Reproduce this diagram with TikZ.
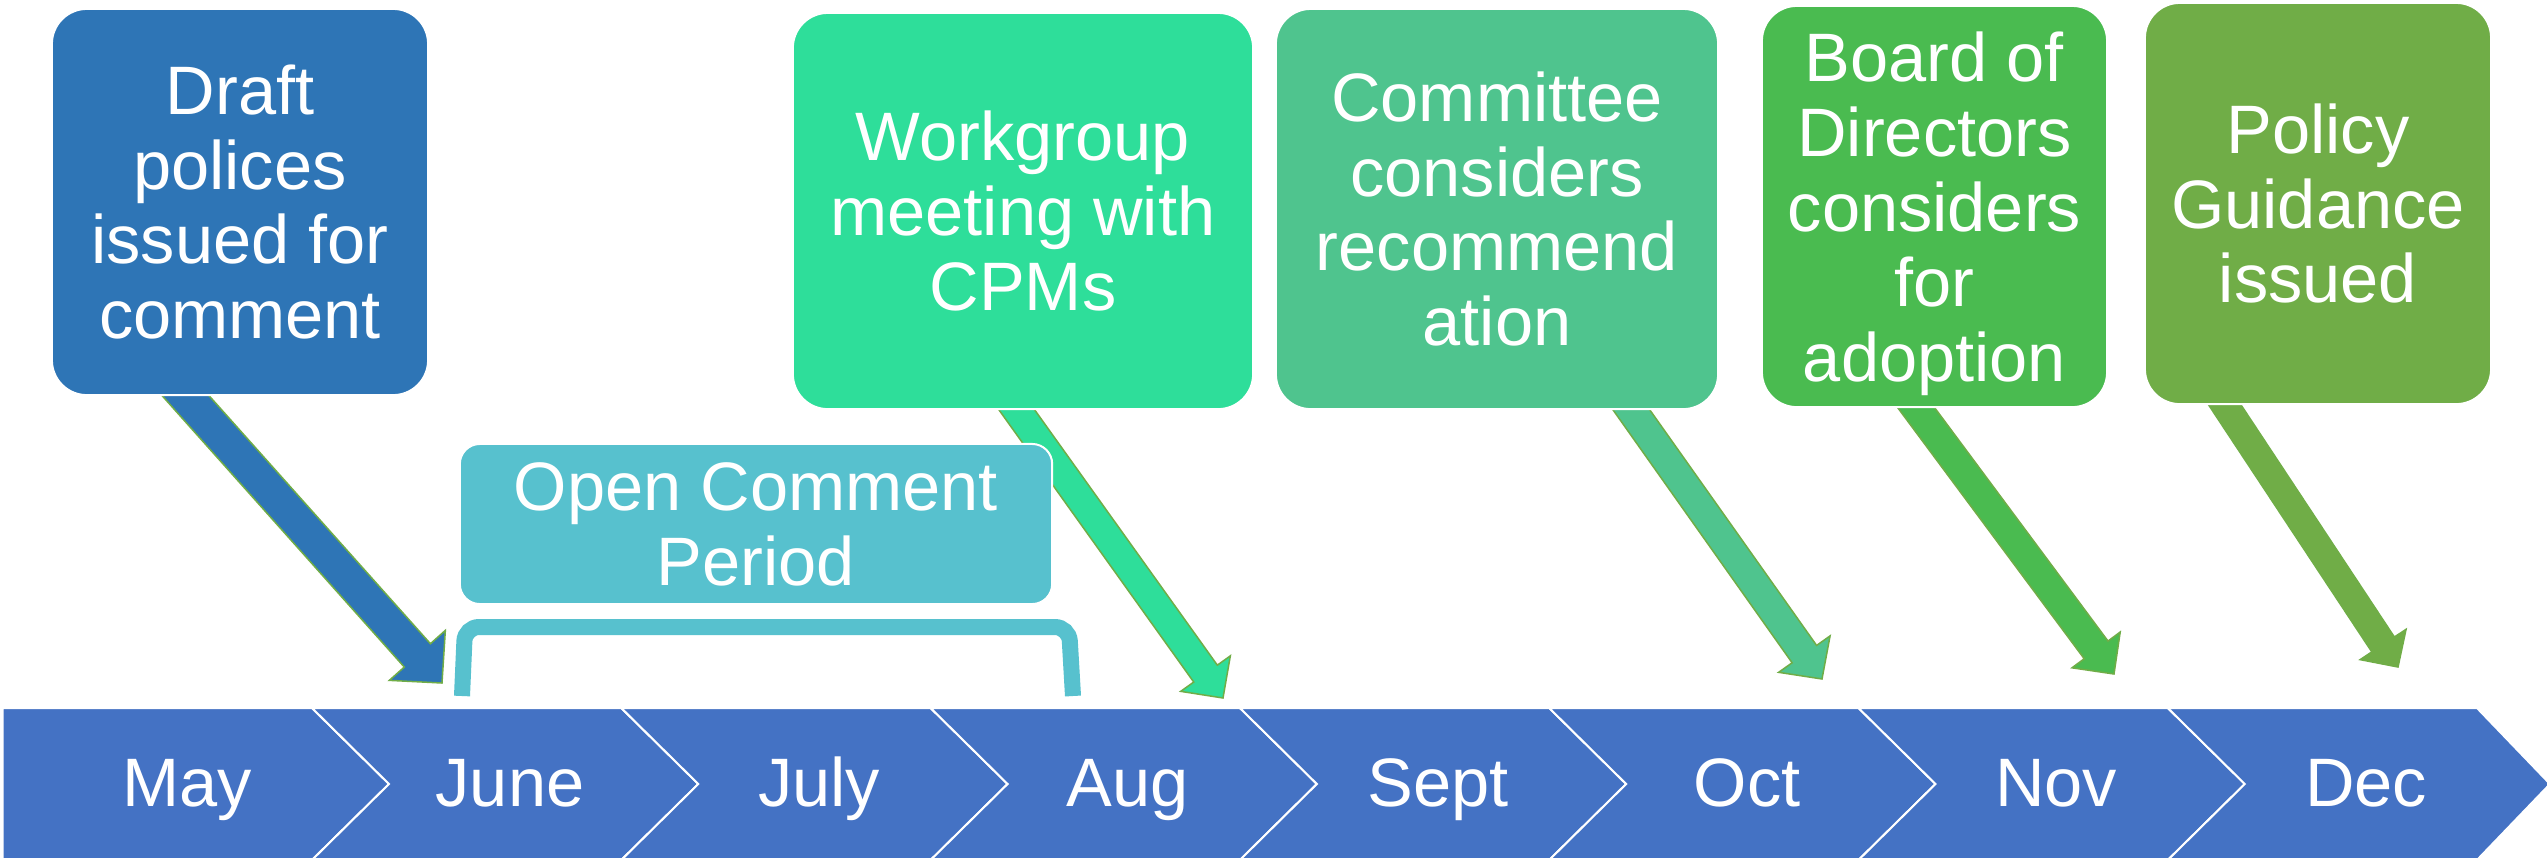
\documentclass[tikz,border=0pt]{standalone}
\usepackage{fontspec}
\setmainfont{Liberation Sans}
\usetikzlibrary{calc}
\definecolor{chev}{HTML}{4472C4}
\definecolor{draftc}{HTML}{2E75B6}
\definecolor{workc}{HTML}{2EDE9A}
\definecolor{commc}{HTML}{4FC48E}
\definecolor{boardc}{HTML}{4ABB50}
\definecolor{policyc}{HTML}{70AD47}
\definecolor{openc}{HTML}{57C1CE}
\definecolor{edgegreen}{HTML}{70AD47}
\newcommand\bxfont{\fontsize{19.5pt}{21.3pt}\selectfont}
\pgfdeclarelayer{back}
\pgfdeclarelayer{bg}
\pgfsetlayers{back,bg,main}
\newcommand\blockarr[6]{%
  \coordinate (qa) at ($(#2)!-0.3cm!(#3)$);
  \coordinate (qe) at ($(#3)!#6!(#2)$);
  \draw[arrline, fill=#1] ($(qa)!#4!90:(#3)$) -- ($(qe)!#4!90:(#3)$) -- ($(qe)!#5!90:(#3)$) -- (#3) -- ($(qe)!#5!-90:(#3)$) -- ($(qe)!#4!-90:(#3)$) -- ($(qa)!#4!-90:(#3)$) -- cycle;
}
\tikzset{
  evbox/.style={rounded corners=0.35cm, draw=white, line width=0.02cm, text=white, align=center, font=\bxfont, inner sep=0pt},
  chevshape/.style={fill=chev, draw=white, line width=0.02cm},
  monthlbl/.style={text=white, font=\bxfont, anchor=base, inner sep=0pt},
  arrline/.style={draw=edgegreen, line width=0.015cm, line join=miter},
  brack/.style={draw=openc, line width=0.16cm, rounded corners=0.14cm},
}
\begin{document}
\begin{tikzpicture}[x=0.01cm, y=-0.01cm]
\useasboundingbox (0,0) rectangle (2547,857);
\begin{pgfonlayer}{back}
\fill[white] (0,0) rectangle (2547,857);
\end{pgfonlayer}
% timeline chevrons
\draw[chevshape] (2.7,708) -- (312,708) -- (389,784) -- (312,860) -- (2.7,860) -- cycle;
\foreach \i in {1,...,6}{
  \pgfmathsetmacro\L{2.7+309.3*\i}
  \draw[chevshape] (\L,708) -- ({\L+309.3},708) -- ({\L+386.3},784) -- ({\L+309.3},860) -- (\L,860) -- ({\L+77},784) -- cycle;
}
\draw[chevshape] (2167.8,708) -- (2477,708) -- (2550,784) -- (2477,860) -- (2167.8,860) -- (2244.8,784) -- cycle;
\node[monthlbl] (m0) at (187,806) {May};
\node[monthlbl] (m1) at (510,806) {June};
\node[monthlbl] (m2) at (819,806) {July};
\node[monthlbl] (m3) at (1128,806) {Aug};
\node[monthlbl] (m4) at (1438,806) {Sept};
\node[monthlbl] (m5) at (1747,806) {Oct};
\node[monthlbl] (m6) at (2056,806) {Nov};
\node[monthlbl] (m7) at (2366,806) {Dec};
% bracket
\draw[brack] (462,696) -- (465,627) -- (1069,627) -- (1073,696);
% event boxes
\node[evbox, fill=draftc, minimum width=3.76cm, minimum height=3.86cm] (draft) at (240,202) {Draft\\polices\\issued for\\comment};
\node[evbox, fill=workc, minimum width=4.60cm, minimum height=3.96cm] (work) at (1023,211) {Workgroup\\meeting with\\CPMs};
\node[evbox, fill=commc, minimum width=4.42cm, minimum height=4.00cm] (comm) at (1497,209) {Committee\\considers\\recommend\\ation};
\node[evbox, fill=boardc, minimum width=3.45cm, minimum height=4.01cm] (board) at (1934.5,206.5) {Board of\\Directors\\considers\\for\\\smash{adoption}};
\node[evbox, fill=policyc, minimum width=3.46cm, minimum height=4.01cm] (policy) at (2318,203.5) {Policy\\Guidance\\issued};
\node[evbox, fill=openc, rounded corners=0.2cm, minimum width=5.92cm, minimum height=1.60cm] (open) at (756,524) {Open Comment\\Period};
% arrows (behind boxes)
\coordinate (t1) at (442,683);
\coordinate (t2) at (1223,698);
\coordinate (t3) at (1822,679);
\coordinate (t4) at (2114,674);
\coordinate (t5) at (2398,667);
\begin{pgfonlayer}{bg}
\coordinate (s1) at ([xshift=-0.54cm]draft.south);
\coordinate (s2) at ([xshift=-0.06cm]work.south);
\coordinate (s3) at ([xshift=1.345cm]comm.south);
\coordinate (s4) at ([xshift=-0.18cm]board.south);
\coordinate (s5) at ([xshift=-0.93cm]policy.south);
\blockarr{draftc}{s1}{t1}{0.175cm}{0.375cm}{0.37cm}
\blockarr{workc}{s2}{t2}{0.145cm}{0.305cm}{0.30cm}
\blockarr{commc}{s3}{t3}{0.15cm}{0.315cm}{0.305cm}
\blockarr{boardc}{s4}{t4}{0.148cm}{0.30cm}{0.30cm}
\blockarr{policyc}{s5}{t5}{0.135cm}{0.275cm}{0.27cm}
\end{pgfonlayer}
\end{tikzpicture}
\end{document}
